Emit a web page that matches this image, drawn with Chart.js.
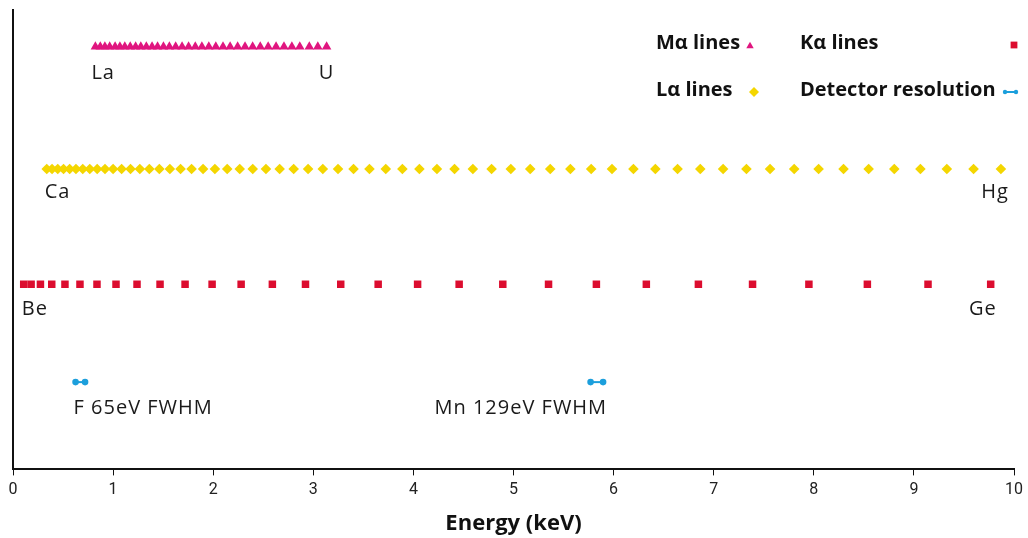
<!DOCTYPE html>
<html><head><meta charset="utf-8">
<script src="https://cdn.jsdelivr.net/npm/chart.js@4/dist/chart.umd.min.js"></script>
<style>html,body{margin:0;padding:0;background:#fff;overflow:hidden}#wrap{width:1028px;height:538px}</style>
</head><body><div id="wrap"><canvas id="c" width="1028" height="538"></canvas></div>
<script>
// ---- Data (energies in keV) ----
const maElements = ['La','Ce','Pr','Nd','Pm','Sm','Eu','Gd','Tb','Dy','Ho','Er','Tm','Yb','Lu','Hf','Ta','W','Re','Os','Ir','Pt','Au','Hg','Tl','Pb','Bi','Po','At','Rn','Fr','Ra','Ac','Th','Pa','U'];
const maEnergies = [0.823,0.872,0.918,0.966,1.020,1.068,1.117,1.171,1.225,1.277,1.332,1.389,1.444,1.503,1.562,1.625,1.689,1.754,1.821,1.887,1.956,2.026,2.098,2.169,2.244,2.318,2.394,2.470,2.549,2.628,2.707,2.786,2.865,2.960,3.045,3.133];

const laElements = ['Ca','Sc','Ti','V','Cr','Mn','Fe','Co','Ni','Cu','Zn','Ga','Ge','As','Se','Br','Kr','Rb','Sr','Y','Zr','Nb','Mo','Tc','Ru','Rh','Pd','Ag','Cd','In','Sn','Sb','Te','I','Xe','Cs','Ba','La','Ce','Pr','Nd','Pm','Sm','Eu','Gd','Tb','Dy','Ho','Er','Tm','Yb','Lu','Hf','Ta','W','Re','Os','Ir','Pt','Au','Hg'];
const laEnergies = [0.337,0.390,0.447,0.505,0.566,0.629,0.697,0.767,0.841,0.919,1.000,1.085,1.174,1.267,1.362,1.462,1.567,1.674,1.784,1.899,2.017,2.140,2.265,2.395,2.527,2.664,2.804,2.948,3.095,3.247,3.402,3.561,3.724,3.890,4.060,4.235,4.411,4.594,4.781,4.973,5.167,5.367,5.568,5.776,5.984,6.198,6.417,6.639,6.866,7.094,7.327,7.563,7.804,8.048,8.297,8.548,8.804,9.065,9.329,9.596,9.869];

const kaElements = ['Be','B','C','N','O','F','Ne','Na','Mg','Al','Si','P','S','Cl','Ar','K','Ca','Sc','Ti','V','Cr','Mn','Fe','Co','Ni','Cu','Zn','Ga','Ge'];
const kaEnergies = [0.107,0.181,0.274,0.387,0.519,0.669,0.839,1.029,1.239,1.469,1.719,1.989,2.279,2.591,2.922,3.274,3.648,4.042,4.457,4.893,5.350,5.828,6.327,6.847,7.388,7.951,8.535,9.141,9.767];

const detectorNames = ['F 65eV FWHM','Mn 129eV FWHM'];
const detectorF = [0.625, 0.72];
const detectorMn = [5.77, 5.895];

const rowLevels = [92.0, 65.4, 40.3, 19.0]; // Mα, Lα, Kα, detector
const xTickValues = [0,1,2,3,4,5,6,7,8,9,10];
const xTitle = 'Energy (keV)';
const legendItems = ['Mα lines','Kα lines','Lα lines','Detector resolution'];

// ---- Styles ----
const C_MA = '#e0157f', C_LA = '#f4d600', C_KA = '#dc0d2f', C_DET = '#1c9fdc';
const LABEL_FONT = '20px "Open Sans", "Noto Sans", sans-serif';
const LEGEND_FONT = 'bold 20px "Open Sans", "Noto Sans", sans-serif';

const pts = (xs, y) => xs.map(x => ({x, y}));

const labelPlugin = {
  id: 'labels',
  afterDatasetsDraw(chart) {
    const ctx = chart.ctx;
    const H = Chart.helpers;
    ctx.save();
    ctx.fillStyle = '#1a1a1a';
    ctx.font = LABEL_FONT;
    ctx.letterSpacing = '1px';
    ctx.textBaseline = 'middle';
    const put = (ds, idx, text, align, dx, dy) => {
      const p = chart.getDatasetMeta(ds).data[idx];
      ctx.textAlign = align;
      ctx.fillText(text, p.x + dx, p.y + dy);
    };
    put(0, 0, maElements[0], 'left', -4, 27);
    put(0, maElements.length - 1, maElements[maElements.length - 1], 'center', 0, 27);
    put(1, 0, laElements[0], 'left', -2, 23);
    put(1, laElements.length - 1, laElements[laElements.length - 1], 'right', 8, 23);
    put(2, 0, kaElements[0], 'left', -2, 25);
    put(2, kaElements.length - 1, kaElements[kaElements.length - 1], 'right', 6, 25);
    put(3, 0, detectorNames[0], 'left', -2, 26);
    put(4, 1, detectorNames[1], 'right', 4, 26);

    // legend
    ctx.letterSpacing = '0px';
    ctx.font = LEGEND_FONT;
    ctx.fillStyle = '#111';
    ctx.textAlign = 'left';
    ctx.fillText(legendItems[0], 656, 43);
    ctx.fillText(legendItems[1], 800, 43);
    ctx.fillText(legendItems[2], 656, 90);
    ctx.fillText(legendItems[3], 800, 90);
    const mk = (style, r, x, y, col) => {
      ctx.fillStyle = col; ctx.strokeStyle = col; ctx.lineWidth = 0.01;
      H.drawPoint(ctx, {pointStyle: style, radius: r, rotation: 0, borderWidth: 0}, x, y);
    };
    mk('triangle', 4.3, 750, 46, C_MA);
    mk('rect', 4.8, 1014, 45, C_KA);
    mk('rectRot', 5, 754, 92, C_LA);
    ctx.strokeStyle = C_DET; ctx.lineWidth = 2;
    ctx.beginPath(); ctx.moveTo(1005, 92); ctx.lineTo(1016, 92); ctx.stroke();
    ctx.fillStyle = C_DET;
    ctx.beginPath(); ctx.arc(1005, 92, 2.2, 0, Math.PI * 2); ctx.fill();
    ctx.beginPath(); ctx.arc(1016, 92, 2.2, 0, Math.PI * 2); ctx.fill();
    ctx.restore();
  }
};

new Chart(document.getElementById('c'), {
  type: 'scatter',
  data: {
    datasets: [
      { label: 'Mα lines', data: pts(maEnergies, rowLevels[0]), pointStyle: 'triangle', pointRadius: 5.5, backgroundColor: C_MA, borderColor: C_MA, borderWidth: 0, clip: false },
      { label: 'Lα lines', data: pts(laEnergies, rowLevels[1]), pointStyle: 'rectRot', pointRadius: 5.3, backgroundColor: C_LA, borderColor: C_LA, borderWidth: 0, clip: false },
      { label: 'Kα lines', data: pts(kaEnergies, rowLevels[2]), pointStyle: 'rect', pointRadius: 5.3, backgroundColor: C_KA, borderColor: C_KA, borderWidth: 0, clip: false },
      { label: 'F', data: pts(detectorF, rowLevels[3]), showLine: true, pointStyle: 'circle', pointRadius: 2.3, backgroundColor: C_DET, borderColor: C_DET, borderWidth: 2, clip: false },
      { label: 'Mn', data: pts(detectorMn, rowLevels[3]), showLine: true, pointStyle: 'circle', pointRadius: 2.3, backgroundColor: C_DET, borderColor: C_DET, borderWidth: 2, clip: false }
    ]
  },
  options: {
    responsive: false,
    animation: false,
    devicePixelRatio: 1,
    layout: { padding: { left: 13, right: 8, top: 10, bottom: 1 } },
    plugins: { legend: { display: false }, tooltip: { enabled: false } },
    elements: { point: { hoverRadius: 0 } },
    scales: {
      x: {
        type: 'linear', min: 0, max: 10,
        afterBuildTicks: s => { s.ticks = xTickValues.map(v => ({value: v})); },
        ticks: { color: '#222', font: { family: 'Roboto, "Open Sans", sans-serif', size: 16 }, padding: 5, maxRotation: 0 },
        grid: { display: true, drawOnChartArea: false, drawTicks: true, tickLength: 6, color: '#111', lineWidth: 1 },
        border: { display: true, color: '#111', width: 2 },
        title: { display: true, text: xTitle, color: '#111', font: { family: '"Open Sans","Noto Sans",sans-serif', size: 22, weight: 'bold' }, padding: { top: 6, bottom: 0 } }
      },
      y: {
        type: 'linear', min: 0, max: 100,
        ticks: { display: false },
        grid: { display: false, drawTicks: false },
        border: { display: true, color: '#111', width: 2 }
      }
    }
  },
  plugins: [labelPlugin]
});
</script>
</body></html>
